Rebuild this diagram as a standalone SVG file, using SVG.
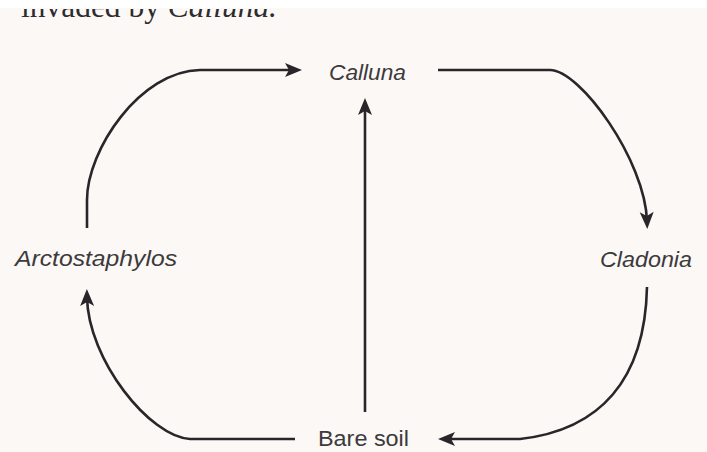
<svg xmlns="http://www.w3.org/2000/svg" width="707" height="452" viewBox="0 0 707 452">
  <defs>
    <style>
      .lbl { font-family: "Liberation Sans", Arial, sans-serif; font-size: 22px; fill: #3d3a3c; }
      .it { font-style: italic; }
      .con { fill: none; stroke: #2b2428; stroke-width: 2.6; }
      .book { font-family: "Liberation Serif", "Times New Roman", serif; font-size: 31px; fill: #2f2c2e; }
    </style>
    <marker id="ah" markerUnits="userSpaceOnUse" markerWidth="20" markerHeight="16" refX="9" refY="7" orient="auto" overflow="visible">
      <path d="M0,0 L17,7 L0,14 L4,7 Z" fill="#2b2428"/>
    </marker>
    <clipPath id="pageclip">
      <rect x="0" y="9" width="707" height="443"/>
    </clipPath>
  </defs>

  <rect x="0" y="0" width="707" height="452" fill="#ffffff"/>
  <rect x="0" y="8" width="707" height="444" fill="#fbf8f6"/>

  <g id="page-text" clip-path="url(#pageclip)">
    <text class="book" x="21" y="17" textLength="256" lengthAdjust="spacingAndGlyphs">invaded by <tspan font-style="italic">Calluna.</tspan></text>
  </g>

  <g id="connectors">
    <path class="con" d="M 87 228 L 87 200 C 87 150 140 71 200 70 L 294 70" marker-end="url(#ah)"/>
    <path class="con" d="M 438 70 L 550 70 C 580 70 645 160 647 221" marker-end="url(#ah)"/>
    <path class="con" d="M 647 287 C 645 380 600 430 520 439 L 446 439" marker-end="url(#ah)"/>
    <path class="con" d="M 295 439 L 190 439 C 150 437 88 360 87 297" marker-end="url(#ah)"/>
    <path class="con" d="M 365 412 L 365 106" marker-end="url(#ah)"/>
  </g>

  <g id="node-calluna">
    <text class="lbl it" x="329" y="80" textLength="77" lengthAdjust="spacingAndGlyphs">Calluna</text>
  </g>
  <g id="node-cladonia">
    <text class="lbl it" x="600" y="267" textLength="92" lengthAdjust="spacingAndGlyphs">Cladonia</text>
  </g>
  <g id="node-bare-soil">
    <text class="lbl" x="318" y="446" textLength="91" lengthAdjust="spacingAndGlyphs">Bare soil</text>
  </g>
  <g id="node-arctostaphylos">
    <text class="lbl it" x="15" y="266" textLength="162" lengthAdjust="spacingAndGlyphs">Arctostaphylos</text>
  </g>
</svg>
